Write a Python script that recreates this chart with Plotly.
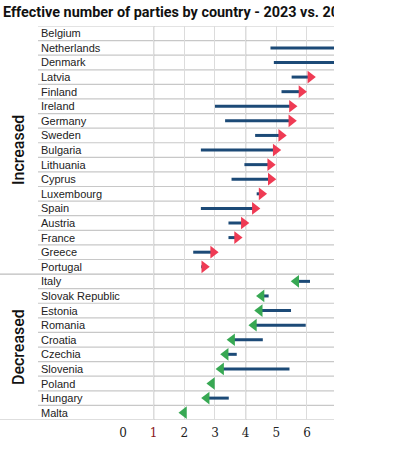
import plotly.graph_objects as go

countries = ["Belgium", "Netherlands", "Denmark", "Latvia", "Finland", "Ireland", "Germany",
             "Sweden", "Bulgaria", "Lithuania", "Cyprus", "Luxembourg", "Spain", "Austria",
             "France", "Greece", "Portugal",
             "Italy", "Slovak Republic", "Estonia", "Romania", "Croatia", "Czechia",
             "Slovenia", "Poland", "Hungary", "Malta"]
groups = ["Increased"] * 17 + ["Decreased"] * 10
v2019 = [9.6, 4.81, 4.92, 5.50, 5.17, 3.00, 3.33, 4.31, 2.54, 3.96, 3.54, 4.36, 2.54, 3.44,
         3.44, 2.29, 2.55,
         6.10, 4.75, 5.48, 5.96, 4.56, 3.71, 5.43, 2.95, 3.45, 2.03]
v2023 = [9.9, 8.2, 7.6, 6.11, 5.82, 5.51, 5.49, 5.16, 4.98, 4.80, 4.82, 4.52, 4.30, 3.94,
         3.72, 2.94, 2.65,
         5.65, 4.52, 4.46, 4.27, 3.56, 3.35, 3.20, 2.90, 2.73, 1.99]
tick_vals = [0, 1, 2, 3, 4, 5, 6]
tick_text = ["0", "<span style='color:#8b1a1a'>1</span>", "2", "3", "4", "5", "6"]
title_text = "Effective number of parties by country - 2023 vs. 2019"

W, H = 334, 451
ML, MR, MT, MB = 123, 0, 26, 31
PW = W - ML - MR
XMAX = PW / 30.66

n = len(countries)

fig = go.Figure()

# connecting lines
lx, ly = [], []
for i in range(n):
    lx += [v2019[i], v2023[i], None]
    ly += [i, i, None]
fig.add_trace(go.Scatter(x=lx, y=ly, mode="lines", line=dict(color="#1c4a77", width=3),
                         hoverinfo="skip", showlegend=False, cliponaxis=True))

inc = [i for i in range(n) if groups[i] == "Increased"]
dec = [i for i in range(n) if groups[i] == "Decreased"]
fig.add_trace(go.Scatter(x=[v2023[i] for i in inc], y=inc, mode="markers",
                         marker=dict(symbol="triangle-right", size=11, color="#ef3b54"),
                         showlegend=False))
fig.add_trace(go.Scatter(x=[v2023[i] for i in dec], y=dec, mode="markers",
                         marker=dict(symbol="triangle-left", size=11, color="#37a853"),
                         showlegend=False))


def px2paper(p):
    return (p - ML) / PW


shapes = []
# row separators
for k in range(n + 1):
    yv = k - 0.5
    x0 = px2paper(38)
    if k == n or k == len(inc):
        x0 = px2paper(0)
    col = "#c8c8c8" if k not in (len(inc), n) else "#bdbdbd"
    shapes.append(dict(type="line", xref="paper", yref="y", x0=x0, x1=1, y0=yv, y1=yv,
                       line=dict(color=col, width=1.2), layer="below"))
# darker gridlines at 1 and 4
for xv in (1, 4):
    shapes.append(dict(type="line", xref="x", yref="y", x0=xv, x1=xv, y0=-0.5, y1=n - 0.5,
                       line=dict(color="#b5b5b5", width=1.2), layer="below"))

annotations = []
for i, c in enumerate(countries):
    annotations.append(dict(text=c, xref="paper", yref="y", x=px2paper(39), y=i,
                            xanchor="left", yanchor="middle", showarrow=False,
                            font=dict(family="Liberation Sans, Arial", size=11, color="#222")))
grp_font = dict(family="Roboto, Liberation Sans", size=16, color="#111", weight=500)
annotations.append(dict(text="Increased", xref="paper", yref="y", x=px2paper(18),
                        y=(len(inc) - 1) / 2, textangle=-90, showarrow=False,
                        xanchor="center", yanchor="middle", font=grp_font))
annotations.append(dict(text="Decreased", xref="paper", yref="y", x=px2paper(18),
                        y=len(inc) + (len(dec) - 1) / 2, textangle=-90, showarrow=False,
                        xanchor="center", yanchor="middle", font=grp_font))

fig.update_layout(
    width=W, height=H,
    margin=dict(l=ML, r=MR, t=MT, b=MB),
    paper_bgcolor="white", plot_bgcolor="white",
    title=dict(text="<b>" + title_text + "</b>", xref="container", yref="container",
               x=0.0, xanchor="left", y=1 - 12 / H, yanchor="middle", pad=dict(l=3),
               font=dict(family="Roboto, Liberation Sans", size=14.4, color="#111")),
    xaxis=dict(range=[0, XMAX], tickvals=tick_vals, ticktext=tick_text, showgrid=True,
               gridcolor="#dcdcdc", gridwidth=1, zeroline=False, showline=False,
               ticks="outside", ticklen=2, tickcolor="rgba(0,0,0,0)",
               tickfont=dict(family="DejaVu Serif, Liberation Serif", size=12, color="#222"),
               fixedrange=True),
    yaxis=dict(range=[n - 0.5, -0.5], showticklabels=False, showgrid=False, zeroline=False,
               showline=False, fixedrange=True),
    shapes=shapes, annotations=annotations,
)

fig.write_html("out.html", config={"displayModeBar": False},
               post_script="document.body.style.margin='0px';")
